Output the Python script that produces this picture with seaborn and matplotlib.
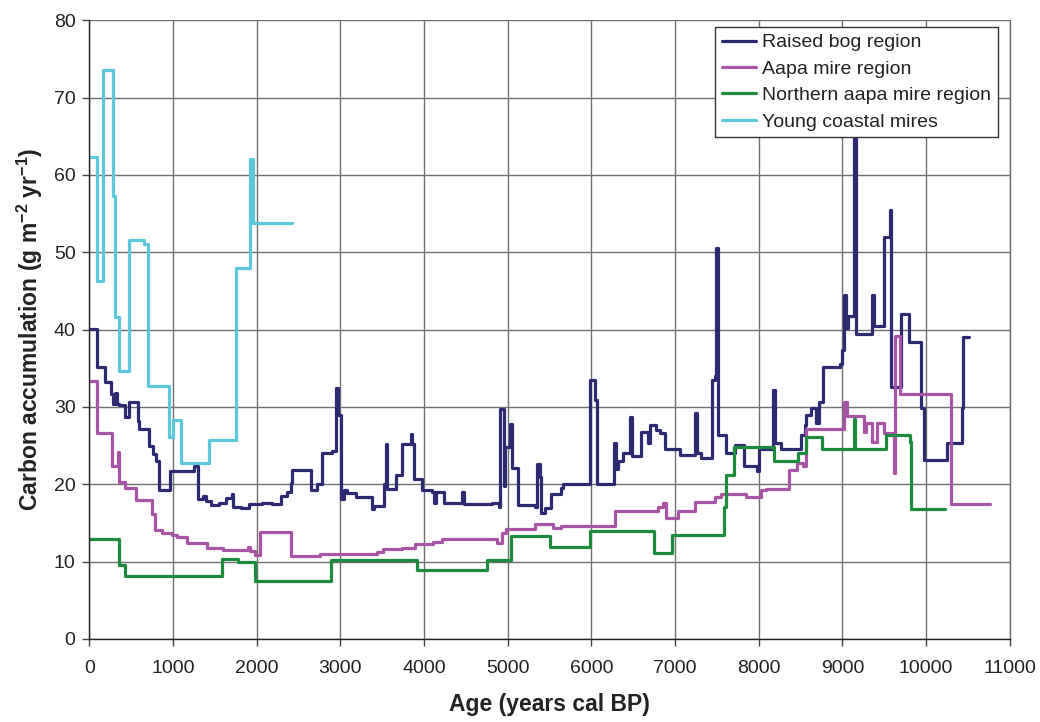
import pandas as pd
import seaborn as sns
import matplotlib.pyplot as plt

# step data: value holds from each age until the next age
raised_age = [0, 87, 191, 259, 285, 300, 330, 350, 425, 477, 577, 597, 716, 755, 795, 835,
              962, 1253, 1300, 1352, 1392, 1451, 1551, 1631, 1702, 1710, 1810, 1909, 1989,
              2068, 2187, 2287, 2366, 2406, 2426, 2645, 2724, 2776, 2903, 2943, 2975, 3003,
              3042, 3082, 3181, 3380, 3400, 3520, 3539, 3559, 3659, 3738, 3838, 3857, 3877,
              3977, 4096, 4116, 4136, 4235, 4454, 4474, 4812, 4891, 4911, 4951, 4971, 5030,
              5050, 5124, 5323, 5350, 5382, 5402, 5442, 5522, 5641, 5661, 5980, 6039, 6071,
              6270, 6298, 6318, 6378, 6458, 6489, 6597, 6677, 6697, 6776, 6816, 6876, 7055,
              7234, 7262, 7314, 7441, 7473, 7493, 7513, 7612, 7712, 7819, 7983, 8003, 8170,
              8190, 8270, 8509, 8548, 8560, 8628, 8680, 8720, 8767, 8967, 8999, 9014, 9038,
              9066, 9134, 9158, 9166, 9352, 9373, 9492, 9572, 9584, 9704, 9795, 9943, 9970,
              10248, 10428, 10440, 10511]
raised_val = [40.1, 35.1, 33.2, 31.7, 30.4, 31.8, 30.4, 30.3, 28.7, 30.6, 28.2, 27.1, 25.0,
              23.9, 23.0, 19.2, 21.7, 22.4, 18.1, 18.5, 17.9, 17.3, 17.6, 18.2, 18.8, 17.1,
              16.9, 17.5, 17.4, 17.6, 17.4, 18.5, 19.0, 20.2, 21.9, 19.3, 20.0, 24.1, 24.3,
              32.5, 28.9, 18.1, 19.3, 18.9, 18.4, 16.8, 17.2, 20.0, 25.2, 19.4, 21.2, 25.2,
              26.5, 25.2, 20.7, 19.2, 19.0, 17.6, 19.0, 17.6, 19.0, 17.4, 17.6, 17.0, 29.7,
              19.8, 24.8, 27.8, 22.1, 17.3, 17.1, 22.6, 21.0, 16.3, 16.9, 18.8, 19.5, 20.0,
              33.5, 30.9, 20.0, 25.4, 22.0, 23.0, 24.0, 28.7, 23.6, 26.8, 25.3, 27.7, 27.0,
              26.6, 24.5, 23.8, 29.2, 24.0, 23.4, 33.5, 34.0, 50.5, 26.4, 24.0, 25.1, 22.3,
              21.7, 24.6, 32.2, 25.3, 24.6, 26.4, 27.7, 28.9, 29.8, 27.9, 30.7, 35.1, 35.6,
              37.4, 44.5, 40.2, 41.7, 65.5, 41.7, 39.4, 44.5, 40.4, 52.0, 55.4, 32.6, 42.0,
              38.4, 29.8, 23.1, 25.4, 29.9, 39.1, 39.1]

aapa_age = [0, 94, 265, 337, 357, 424, 556, 743, 783, 862, 982, 1042, 1161, 1400, 1599, 1898,
            1918, 1977, 2037, 2410, 2754, 3431, 3510, 3730, 3889, 4108, 4208, 4872, 4925, 4984,
            5322, 5541, 5641, 6278, 6537, 6796, 6856, 6888, 7035, 7234, 7473, 7553, 7852, 8031,
            8091, 8361, 8456, 8528, 8560, 9018, 9058, 9257, 9285, 9352, 9417, 9492, 9616, 9632,
            9683, 10293, 10767]
aapa_val = [33.4, 26.6, 22.4, 24.2, 20.3, 19.5, 18.0, 16.2, 14.1, 13.7, 13.5, 13.2, 12.4, 11.7,
            11.5, 11.9, 11.4, 10.8, 13.8, 10.7, 11.0, 11.3, 11.6, 11.8, 12.3, 12.6, 12.9, 12.4,
            13.7, 14.2, 14.9, 14.3, 14.6, 16.6, 16.5, 17.1, 17.6, 15.7, 16.6, 17.7, 18.4, 18.8,
            18.3, 19.2, 19.4, 21.8, 22.7, 22.3, 27.2, 30.7, 28.8, 26.8, 27.9, 25.5, 27.9, 26.6,
            21.5, 39.2, 31.7, 17.5, 17.5]

north_age = [0, 357, 424, 1201, 1579, 1778, 1977, 2881, 3909, 4757, 5044, 5502, 5988, 6748,
             6967, 7581, 7612, 7704, 8178, 8469, 8560, 8755, 9138, 9154, 9524, 9803, 9823, 10221]
north_val = [12.9, 9.6, 8.1, 8.2, 10.3, 10.0, 7.5, 10.2, 8.9, 10.2, 13.3, 11.9, 13.9, 11.1,
             13.4, 17.1, 21.2, 24.8, 23.0, 24.0, 26.1, 24.5, 28.5, 24.5, 26.4, 25.5, 16.8, 16.8]

young_age = [0, 87, 167, 286, 310, 350, 470, 650, 705, 955, 995, 1094, 1424, 1757, 1917, 1949, 2422]
young_val = [62.3, 46.3, 73.5, 57.3, 41.6, 34.7, 51.6, 51.1, 32.7, 26.1, 28.3, 22.7, 25.7, 48.0,
             62.1, 53.8, 53.8]

series = ["Raised bog region", "Aapa mire region", "Northern aapa mire region", "Young coastal mires"]
palette = {
    "Raised bog region": "#2d2a72",
    "Aapa mire region": "#a855a6",
    "Northern aapa mire region": "#1e8a3e",
    "Young coastal mires": "#5cc8dc",
}

frames = []
for name, a, v in zip(series, [raised_age, aapa_age, north_age, young_age],
                      [raised_val, aapa_val, north_val, young_val]):
    frames.append(pd.DataFrame({"age": a, "carbon": v, "region": name}))
df = pd.concat(frames, ignore_index=True)

sns.set_style("ticks")
plt.rcParams["font.family"] = ["Liberation Sans", "DejaVu Sans"]
plt.rcParams["mathtext.fontset"] = "custom"
plt.rcParams["mathtext.bf"] = "Liberation Sans:bold"
plt.rcParams["mathtext.rm"] = "Liberation Sans:bold"
plt.rcParams["mathtext.default"] = "bf"

fig = plt.figure(figsize=(10.4, 7.22), dpi=100)
ax = fig.add_axes([0.086, 0.115, 0.885, 0.857])

sns.lineplot(data=df, x="age", y="carbon", hue="region", hue_order=series, palette=palette,
             estimator=None, sort=False, drawstyle="steps-post", linewidth=2.3, ax=ax)

ax.set_xlim(0, 11000)
ax.set_ylim(0, 80)
ax.set_xticks(range(0, 11001, 1000))
ax.set_yticks(range(0, 81, 10))
ax.grid(True, color="#707070", linewidth=1.0)
ax.axvline(11000, color="#707070", linewidth=1.0, clip_on=False, zorder=0)
ax.set_axisbelow(True)
for s in ["top", "right"]:
    ax.spines[s].set_visible(False)
for s in ["left", "bottom"]:
    ax.spines[s].set_color("#222222")
    ax.spines[s].set_linewidth(1.0)
ax.tick_params(direction="out", length=5, width=1, color="#444444", labelcolor="#222222",
               labelsize=14)
ax.tick_params(axis="x", pad=10)
ax.tick_params(axis="y", pad=5)

ax.set_xlabel("Age (years cal BP)", fontsize=16.5, fontweight="bold", labelpad=12, color="#222222")
ax.set_ylabel("Carbon accumulation (g m$^{-2}$ yr$^{-1}$)", fontsize=16.5, fontweight="bold",
              labelpad=6, color="#222222")

leg = ax.legend(loc="upper right", bbox_to_anchor=(0.987, 0.989), borderaxespad=0,
                fontsize=14, frameon=True, fancybox=False, framealpha=1,
                edgecolor="#333333", handlelength=1.75, handletextpad=0.3,
                labelspacing=0.45, borderpad=0.35, title=None)
leg.get_frame().set_linewidth(1.0)
for t in leg.get_texts():
    t.set_color("#222222")

fig.savefig("out.png", dpi=100)
